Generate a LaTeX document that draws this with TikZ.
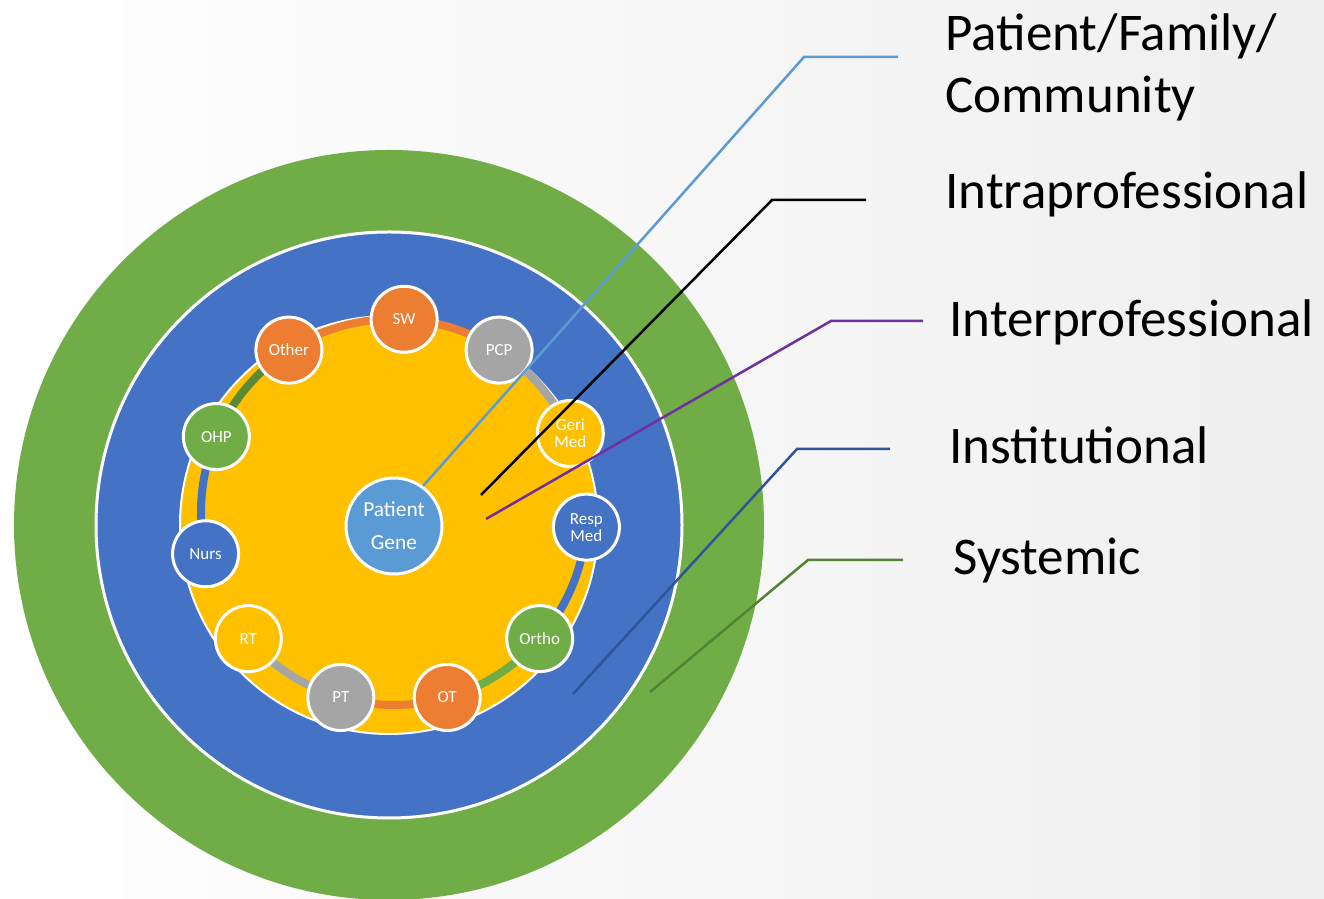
\documentclass[tikz,border=0pt]{standalone}
\usepackage{fontspec}
\setmainfont{Carlito}
\usetikzlibrary{positioning}

\definecolor{ringgreen}{HTML}{70AD47}
\definecolor{ringblue}{HTML}{4472C4}
\definecolor{ringgold}{HTML}{FFC000}
\definecolor{teamorange}{HTML}{ED7D31}
\definecolor{teamgray}{HTML}{A5A5A5}
\definecolor{genesky}{HTML}{5B9BD5}
\definecolor{leadpurple}{HTML}{7030A0}
\definecolor{leadnavy}{HTML}{2F5597}
\definecolor{leadmoss}{HTML}{548235}
\definecolor{bgright}{HTML}{F0EFEF}

\pgfdeclarelayer{backdrop}
\pgfdeclarelayer{bands}
\pgfsetlayers{backdrop,bands,main}

\begin{document}
\begin{tikzpicture}[x=0.5pt, y=0.5pt,
        member/.style={circle, draw=white, line width=1.5pt, minimum size=33pt, inner sep=0pt,
            text=white, align=center, font=\fontsize{8.5}{8.5}\selectfont},
        band/.style={line width=4pt},
        lead/.style={line width=1.25pt},
        level/.style={anchor=west, inner sep=0pt, align=left, font=\fontsize{26.5}{31}\selectfont}]

        \clip (0,0) rectangle (1324,899);

        % levels of care
        \begin{pgfonlayer}{backdrop}
            \shade [left color=white, right color=bgright] (0,0) rectangle (1324,899);
            \fill [ringgreen] (389,374) circle (375);
            \draw [fill=ringblue, draw=white, line width=1.5pt] (389,374) circle (293);
            \draw [fill=ringgold, draw=white, line width=1pt] (389,374) circle (209);
        \end{pgfonlayer}

        % the team, on a ring round the patient
        \begin{scope}[shift={(394,387)}]
            \node (sw) [member, fill=teamorange] at (87:193) {SW};
            \node (pcp) [member, fill=teamgray] at (57:193) {PCP};
            \node (geri) [member, fill=ringgold] at (24:193) {Geri\\Med};
            \node (resp) [member, fill=ringblue] at (-4.5:193) {Resp\\Med};
            \node (ortho) [member, fill=ringgreen] at (-41:193) {Ortho};
            \node (ot) [member, fill=teamorange] at (-74:193) {OT};
            \node (pt) [member, fill=teamgray] at (-106:193) {PT};
            \node (rt) [member, fill=ringgold] at (-139:193) {RT};
            \node (nurs) [member, fill=ringblue] at (192.5:193) {Nurs};
            \node (ohp) [member, fill=ringgreen] at (157:193) {OHP};
            \node (other) [member, fill=teamorange] at (123:193) {Other};
        \end{scope}

        \begin{pgfonlayer}{bands}
            \draw [band, teamorange] (pcp.center) arc [start angle=57, end angle=123, radius=193];
            \draw [band, teamgray] (geri.center) arc [start angle=24, end angle=57, radius=193];
            \draw [band, ringblue] (ortho.center) arc [start angle=-41, end angle=-4.5, radius=193];
            \draw [band, ringgreen] (ot.center) arc [start angle=-74, end angle=-41, radius=193];
            \draw [band, teamorange] (pt.center) arc [start angle=-106, end angle=-74, radius=193];
            \draw [band, teamgray] (rt.center) arc [start angle=-139, end angle=-106, radius=193];
            \draw [band, ringblue] (ohp.center) arc [start angle=157, end angle=192.5, radius=193];
            \draw [band, ringgreen!80!black] (other.center) arc [start angle=123, end angle=157, radius=193];
        \end{pgfonlayer}

        \node (gene) [circle, fill=genesky, draw=white, line width=1.5pt, minimum size=48pt, inner sep=0pt,
            text=white, align=center, font=\fontsize{10.7}{16.5}\selectfont] at (394,373) {Patient\\Gene};

        % labels
        \node (pfc) [level] at (945,832) {Patient/Family/\\Community};
        \node (intra) [level] at (945,705) {Intraprofessional};
        \node (inter) [level] at (949,577) {Interprofessional};
        \node (inst) [level] at (949,454) {Institutional};
        \node (sys) [level] at (953,338) {Systemic};

        \coordinate (pfc-end) at (898,842);
        \coordinate (pfc-bend) at (804,842);
        \coordinate (intra-end) at (866,699);
        \coordinate (intra-bend) at (772,699);
        \coordinate (intra-tip) at (481,404);
        \coordinate (inter-end) at (923,578);
        \coordinate (inter-bend) at (831,578);
        \coordinate (inter-tip) at (486,380);
        \coordinate (inst-end) at (890,450);
        \coordinate (inst-bend) at (797,450);
        \coordinate (inst-tip) at (573,205);
        \coordinate (sys-end) at (903,339);
        \coordinate (sys-bend) at (808,339);
        \coordinate (sys-tip) at (650,207);

        \draw [lead, genesky] (pfc-end) -- (pfc-bend) -- (gene.54);
        \draw [lead, black] (intra-end) -- (intra-bend) -- (intra-tip);
        \draw [lead, leadpurple] (inter-end) -- (inter-bend) -- (inter-tip);
        \draw [lead, leadnavy] (inst-end) -- (inst-bend) -- (inst-tip);
        \draw [lead, leadmoss] (sys-end) -- (sys-bend) -- (sys-tip);
    \end{tikzpicture}
\end{document}
